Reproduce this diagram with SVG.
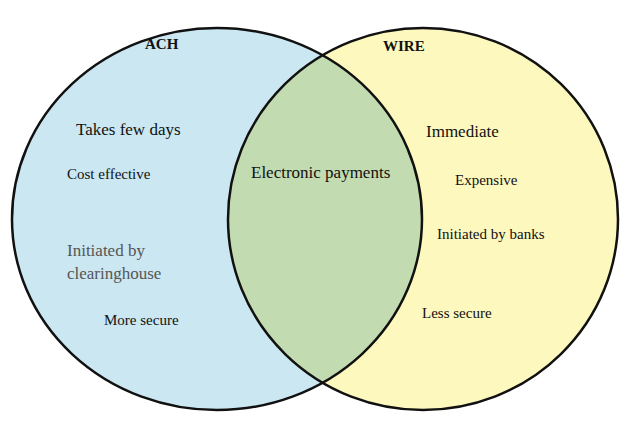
<svg xmlns="http://www.w3.org/2000/svg" width="624" height="423" viewBox="0 0 624 423">
<style>
text{font-family:"Liberation Serif",serif;fill:#111}
.e{stroke:#111;stroke-width:2.5;fill:none}
</style>
<defs><clipPath id="cl"><ellipse cx="217" cy="219" rx="205" ry="191"/></clipPath></defs>
<rect width="624" height="423" fill="#fff"/>
<g id="ach"><ellipse cx="217" cy="219" rx="205" ry="191" fill="#cbe7f1"/></g>
<g id="wire"><ellipse cx="423" cy="219" rx="195" ry="191" fill="#fdf8bd"/></g>
<g id="both"><ellipse cx="423" cy="219" rx="195" ry="191" fill="#c3dbb0" clip-path="url(#cl)"/></g>
<g id="outlines">
<ellipse class="e" cx="217" cy="219" rx="205" ry="191"/>
<ellipse class="e" cx="423" cy="219" rx="195" ry="191"/>
</g>
<g font-size="15">
<text x="145" y="49" font-weight="bold" font-size="15">ACH</text>
<text x="383" y="51" font-weight="bold" font-size="15">WIRE</text>
<text x="76" y="135" font-size="17">Takes few days</text>
<text x="67" y="179">Cost effective</text>
<text x="67" y="256" font-size="17" style="fill:#555">Initiated by</text>
<text x="67" y="279" font-size="17" style="fill:#555">clearinghouse</text>
<text x="104" y="325">More secure</text>
<text x="251" y="178" font-size="17">Electronic payments</text>
<text x="426" y="137" font-size="17">Immediate</text>
<text x="455" y="185">Expensive</text>
<text x="437" y="239">Initiated by banks</text>
<text x="422" y="318">Less secure</text>
</g>
</svg>
